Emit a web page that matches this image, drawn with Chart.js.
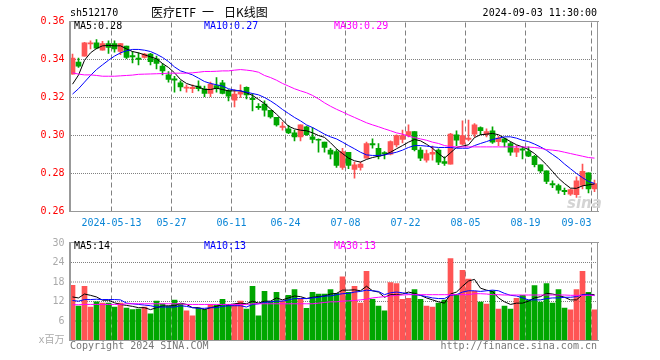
<!DOCTYPE html>
<html>
<head>
<meta charset="utf-8">
<script src="https://cdn.jsdelivr.net/npm/chart.js@4.4.1/dist/chart.umd.min.js"></script>
<style>
  body { margin: 0; background: #fff; }
  #wrap { position: relative; width: 660px; height: 360px; overflow: hidden; font-family: 'DejaVu Sans Mono', monospace; font-size: 10px; }
  canvas { position: absolute; left: 0; }
  #priceChart { top: 0; }
  #volChart { top: 232px; }
  .txt { position: absolute; white-space: pre; line-height: 10px; }
  .cjk { font-family: 'Noto Sans CJK SC', sans-serif; font-size: 12px; line-height: 12px; }
</style>
</head>
<body>
<div id="wrap">
  <canvas id="priceChart" width="660" height="232"></canvas>
  <canvas id="volChart" width="660" height="128"></canvas>

  <div class="txt" style="left:70px;top:8px;color:#000">sh512170</div>
  <div class="txt cjk" style="left:151px;top:6px;color:#000">医疗ETF</div>
  <div class="txt cjk" style="left:202px;top:6px;color:#000">一</div>
  <div class="txt cjk" style="left:224px;top:6px;color:#000">日K线图</div>
  <div class="txt" style="right:63px;top:8px;color:#000">2024-09-03 11:30:00</div>

  <div class="txt" style="left:74px;top:21px;color:#000">MA5:0.28</div>
  <div class="txt" style="left:204px;top:21px;color:#0000ff">MA10:0.27</div>
  <div class="txt" style="left:334px;top:21px;color:#ff00ff">MA30:0.29</div>

  <div class="txt" style="left:74px;top:241px;color:#000">MA5:14</div>
  <div class="txt" style="left:204px;top:241px;color:#0000ff">MA10:13</div>
  <div class="txt" style="left:334px;top:241px;color:#ff00ff">MA30:13</div>

  <div class="txt" style="left:567px;top:194px;color:#d4d4d4;font:italic bold 15px 'DejaVu Sans',sans-serif">sina</div>

  <div class="txt" style="left:70px;top:341px;color:#777">Copyright 2024 SINA.COM</div>
  <div class="txt" style="right:63px;top:341px;color:#777">http://finance.sina.com.cn</div>
</div>

<script>
// trading days shown on the chart
const dates = [
  '2024-04-29', '2024-04-30',
  '2024-05-06', '2024-05-07', '2024-05-08', '2024-05-09', '2024-05-10',
  '2024-05-13', '2024-05-14', '2024-05-15', '2024-05-16', '2024-05-17',
  '2024-05-20', '2024-05-21', '2024-05-22', '2024-05-23', '2024-05-24',
  '2024-05-27', '2024-05-28', '2024-05-29', '2024-05-30', '2024-05-31',
  '2024-06-03', '2024-06-04', '2024-06-05', '2024-06-06', '2024-06-07',
  '2024-06-11', '2024-06-12', '2024-06-13', '2024-06-14',
  '2024-06-17', '2024-06-18', '2024-06-19', '2024-06-20', '2024-06-21',
  '2024-06-24', '2024-06-25', '2024-06-26', '2024-06-27', '2024-06-28',
  '2024-07-01', '2024-07-02', '2024-07-03', '2024-07-04', '2024-07-05',
  '2024-07-08', '2024-07-09', '2024-07-10', '2024-07-11', '2024-07-12',
  '2024-07-15', '2024-07-16', '2024-07-17', '2024-07-18', '2024-07-19',
  '2024-07-22', '2024-07-23', '2024-07-24', '2024-07-25', '2024-07-26',
  '2024-07-29', '2024-07-30', '2024-07-31', '2024-08-01', '2024-08-02',
  '2024-08-05', '2024-08-06', '2024-08-07', '2024-08-08', '2024-08-09',
  '2024-08-12', '2024-08-13', '2024-08-14', '2024-08-15', '2024-08-16',
  '2024-08-19', '2024-08-20', '2024-08-21', '2024-08-22', '2024-08-23',
  '2024-08-26', '2024-08-27', '2024-08-28', '2024-08-29', '2024-08-30',
  '2024-09-02', '2024-09-03'
];

const tickDates = ['2024-05-13', '2024-05-27', '2024-06-11', '2024-06-24', '2024-07-08',
  '2024-07-22', '2024-08-05', '2024-08-19', '2024-09-03'];

const open = [
  0.3323, 0.3386, 0.3418, 0.3482, 0.3488, 0.3449, 0.3484, 0.3484, 0.3442, 0.3470,
  0.3421, 0.3407, 0.3411, 0.3428, 0.3404, 0.3365, 0.3319, 0.3298, 0.3277, 0.3249,
  0.3247, 0.3260, 0.3246, 0.3221, 0.3263, 0.3277, 0.3235, 0.3186, 0.3218, 0.3253,
  0.3196, 0.3154, 0.3165, 0.3133, 0.3095, 0.3042, 0.3035, 0.3014, 0.2993, 0.3046,
  0.2993, 0.2979, 0.2965, 0.2923, 0.2916, 0.2832, 0.2912, 0.2821, 0.2832, 0.2881,
  0.2958, 0.2933, 0.2909, 0.2902, 0.2951, 0.2979, 0.3000, 0.3021, 0.2923, 0.2870,
  0.2902, 0.2923, 0.2863, 0.2849, 0.3004, 0.2954, 0.2979, 0.3007, 0.3042, 0.3004,
  0.3025, 0.2968, 0.2982, 0.2958, 0.2912, 0.2930, 0.2916, 0.2891, 0.2846, 0.2814,
  0.2747, 0.2737, 0.2712, 0.2691, 0.2688, 0.2737, 0.2804, 0.2719
];
const high = [
  0.3428, 0.3407, 0.3491, 0.3498, 0.3505, 0.3495, 0.3498, 0.3498, 0.3484, 0.3470,
  0.3442, 0.3435, 0.3432, 0.3432, 0.3418, 0.3379, 0.3337, 0.3312, 0.3288, 0.3267,
  0.3267, 0.3288, 0.3260, 0.3281, 0.3305, 0.3291, 0.3242, 0.3242, 0.3267, 0.3256,
  0.3220, 0.3168, 0.3182, 0.3133, 0.3095, 0.3070, 0.3053, 0.3028, 0.3056, 0.3049,
  0.3042, 0.2982, 0.2965, 0.2933, 0.2926, 0.2933, 0.2912, 0.2860, 0.2860, 0.2965,
  0.2982, 0.2958, 0.2916, 0.2972, 0.3004, 0.3028, 0.3056, 0.3021, 0.2937, 0.2923,
  0.2944, 0.2930, 0.2888, 0.3011, 0.3025, 0.3077, 0.3081, 0.3063, 0.3046, 0.3035,
  0.3046, 0.2996, 0.2986, 0.2965, 0.2947, 0.2940, 0.2940, 0.2895, 0.2846, 0.2814,
  0.2761, 0.2744, 0.2723, 0.2719, 0.2782, 0.2849, 0.2804, 0.2765
];
const low = [
  0.3323, 0.3358, 0.3418, 0.3456, 0.3456, 0.3449, 0.3432, 0.3439, 0.3425, 0.3404,
  0.3382, 0.3372, 0.3407, 0.3372, 0.3351, 0.3319, 0.3281, 0.3228, 0.3235, 0.3228,
  0.3225, 0.3235, 0.3204, 0.3204, 0.3228, 0.3219, 0.3182, 0.3151, 0.3200, 0.3193,
  0.3130, 0.3137, 0.3102, 0.3091, 0.3049, 0.3028, 0.3010, 0.2972, 0.2972, 0.3000,
  0.2961, 0.2912, 0.2912, 0.2877, 0.2832, 0.2821, 0.2825, 0.2775, 0.2818, 0.2881,
  0.2933, 0.2877, 0.2877, 0.2898, 0.2940, 0.2961, 0.2993, 0.2919, 0.2867, 0.2860,
  0.2870, 0.2846, 0.2842, 0.2849, 0.2947, 0.2951, 0.2972, 0.2993, 0.3004, 0.2993,
  0.2958, 0.2947, 0.2940, 0.2895, 0.2888, 0.2877, 0.2888, 0.2835, 0.2804, 0.2747,
  0.2726, 0.2695, 0.2688, 0.2684, 0.2674, 0.2719, 0.2698, 0.2705
];
const close = [
  0.3407, 0.3365, 0.3488, 0.3486, 0.3460, 0.3484, 0.3463, 0.3456, 0.3484, 0.3411,
  0.3414, 0.3400, 0.3428, 0.3389, 0.3379, 0.3340, 0.3295, 0.3291, 0.3256, 0.3253,
  0.3254, 0.3246, 0.3221, 0.3270, 0.3246, 0.3221, 0.3207, 0.3218, 0.3228, 0.3214,
  0.3189, 0.3147, 0.3133, 0.3098, 0.3056, 0.3049, 0.3014, 0.2993, 0.3056, 0.3004,
  0.2979, 0.2975, 0.2937, 0.2902, 0.2842, 0.2916, 0.2842, 0.2846, 0.2849, 0.2958,
  0.2951, 0.2891, 0.2905, 0.2968, 0.3000, 0.3000, 0.3021, 0.2926, 0.2881, 0.2905,
  0.2912, 0.2860, 0.2853, 0.3007, 0.2975, 0.3000, 0.2986, 0.3056, 0.3025, 0.3021,
  0.2965, 0.2986, 0.2965, 0.2912, 0.2933, 0.2923, 0.2891, 0.2846, 0.2814, 0.2758,
  0.2740, 0.2712, 0.2705, 0.2716, 0.2761, 0.2811, 0.2719, 0.2747
];

const ma5 = [
  0.3270, 0.3318, 0.3396, 0.3435, 0.3458, 0.3472, 0.3474, 0.3472, 0.3472, 0.3456,
  0.3442, 0.3435, 0.3425, 0.3414, 0.3404, 0.3379, 0.3358, 0.3330, 0.3295, 0.3274,
  0.3263, 0.3256, 0.3242, 0.3242, 0.3249, 0.3242, 0.3235, 0.3235, 0.3235, 0.3225,
  0.3211, 0.3190, 0.3168, 0.3140, 0.3112, 0.3081, 0.3049, 0.3035, 0.3028, 0.3025,
  0.3014, 0.3000, 0.2990, 0.2962, 0.2930, 0.2905, 0.2881, 0.2867, 0.2860, 0.2874,
  0.2884, 0.2891, 0.2898, 0.2912, 0.2930, 0.2947, 0.2965, 0.2979, 0.2972, 0.2954,
  0.2933, 0.2905, 0.2881, 0.2909, 0.2937, 0.2944, 0.2951, 0.2989, 0.3004, 0.3007,
  0.3011, 0.3004, 0.2986, 0.2968, 0.2951, 0.2940, 0.2926, 0.2905, 0.2877, 0.2846,
  0.2811, 0.2775, 0.2747, 0.2723, 0.2722, 0.2735, 0.2740, 0.2745
];
const ma10 = [
  0.3218, 0.3246, 0.3281, 0.3316, 0.3347, 0.3372, 0.3396, 0.3418, 0.3435, 0.3446,
  0.3453, 0.3453, 0.3449, 0.3442, 0.3428, 0.3411, 0.3389, 0.3361, 0.3340, 0.3330,
  0.3319, 0.3302, 0.3284, 0.3274, 0.3267, 0.3260, 0.3246, 0.3239, 0.3235, 0.3228,
  0.3221, 0.3214, 0.3200, 0.3182, 0.3161, 0.3137, 0.3116, 0.3095, 0.3077, 0.3056,
  0.3042, 0.3025, 0.3007, 0.2993, 0.2982, 0.2965, 0.2947, 0.2930, 0.2912, 0.2898,
  0.2895, 0.2895, 0.2898, 0.2905, 0.2912, 0.2923, 0.2937, 0.2947, 0.2947, 0.2944,
  0.2940, 0.2937, 0.2937, 0.2937, 0.2933, 0.2933, 0.2933, 0.2947, 0.2958, 0.2968,
  0.2979, 0.2986, 0.2993, 0.2993, 0.2986, 0.2975, 0.2968, 0.2955, 0.2940, 0.2922,
  0.2900, 0.2878, 0.2850, 0.2825, 0.2800, 0.2778, 0.2758, 0.2748
];
const ma30 = [
  0.3330, 0.3323, 0.3319, 0.3319, 0.3316, 0.3312, 0.3312, 0.3312, 0.3314, 0.3316,
  0.3318, 0.3322, 0.3323, 0.3324, 0.3325, 0.3326, 0.3328, 0.3328, 0.3328, 0.3328,
  0.3330, 0.3333, 0.3337, 0.3337, 0.3338, 0.3340, 0.3340, 0.3344, 0.3347, 0.3344,
  0.3340, 0.3333, 0.3316, 0.3305, 0.3291, 0.3274, 0.3260, 0.3246, 0.3235, 0.3225,
  0.3211, 0.3193, 0.3172, 0.3154, 0.3138, 0.3124, 0.3109, 0.3095, 0.3081, 0.3067,
  0.3056, 0.3046, 0.3035, 0.3025, 0.3014, 0.3007, 0.2996, 0.2989, 0.2982, 0.2975,
  0.2965, 0.2958, 0.2947, 0.2942, 0.2940, 0.2940, 0.2940, 0.2940, 0.2940, 0.2940,
  0.2940, 0.2940, 0.2940, 0.2940, 0.2940, 0.2940, 0.2939, 0.2937, 0.2933, 0.2926,
  0.2923, 0.2919, 0.2912, 0.2905, 0.2898, 0.2891, 0.2884, 0.2881
];

// volume, millions of shares
const volume = [
  17.0, 10.6, 16.7, 10.3, 11.9, 11.5, 11.5, 10.3, 11.5, 10.0,
  9.5, 9.7, 10.3, 8.2, 12.1, 11.3, 10.5, 12.4, 11.3, 9.1,
  7.6, 10.0, 9.5, 11.1, 10.9, 12.7, 11.1, 11.1, 12.1, 9.7,
  16.7, 7.6, 15.1, 11.9, 14.8, 12.1, 13.9, 15.7, 12.9, 9.9,
  14.8, 14.3, 14.3, 15.7, 14.5, 19.6, 14.8, 16.7, 11.5, 21.3,
  12.7, 10.6, 9.1, 17.8, 17.5, 12.7, 13.0, 15.7, 12.7, 10.6,
  10.3, 11.5, 12.4, 25.2, 14.2, 21.6, 18.9, 15.1, 11.8, 11.2,
  15.3, 9.7, 10.6, 9.7, 13.0, 13.9, 12.4, 16.9, 11.8, 17.5,
  11.5, 15.7, 10.0, 9.4, 15.7, 21.3, 14.8, 9.4
];
const volMa5 = [
  13.4, 13.1, 14.3, 13.9, 13.4, 12.4, 12.4, 11.6, 11.1, 10.8,
  10.5, 10.1, 10.1, 9.5, 10.1, 10.6, 10.7, 10.7, 11.5, 11.1,
  10.1, 10.1, 9.5, 10.1, 10.5, 11.1, 10.9, 11.3, 11.5, 11.3,
  12.1, 11.5, 12.1, 12.1, 13.1, 12.5, 13.1, 13.7, 13.5, 12.9,
  13.3, 13.5, 13.7, 14.3, 14.5, 15.5, 15.5, 15.6, 15.3, 16.7,
  15.3, 14.9, 13.3, 14.1, 14.1, 14.3, 14.9, 14.5, 13.9, 13.1,
  12.5, 11.9, 11.5, 14.3, 14.9, 16.7, 18.3, 18.8, 16.1, 15.5,
  15.1, 13.1, 11.9, 11.1, 11.5, 11.5, 12.1, 13.1, 13.5, 14.5,
  14.3, 13.9, 13.3, 12.5, 12.5, 14.1, 14.3, 14.1
];
const volMa10 = [
  12.3, 12.1, 12.6, 12.6, 12.7, 12.6, 12.6, 12.6, 12.5, 11.5,
  11.3, 11.1, 10.9, 10.7, 10.3, 10.3, 10.3, 10.3, 10.7, 10.5,
  10.1, 9.9, 9.9, 10.1, 10.1, 10.5, 10.7, 10.7, 10.7, 10.3,
  11.1, 11.3, 11.7, 11.9, 12.1, 12.1, 12.5, 12.9, 12.9, 12.9,
  13.1, 13.3, 13.7, 13.7, 14.1, 14.4, 14.5, 14.9, 15.1, 15.5,
  15.3, 15.1, 14.1, 14.7, 14.9, 14.7, 14.3, 14.1, 13.9, 13.5,
  13.1, 12.9, 12.9, 13.9, 14.1, 14.9, 15.3, 15.3, 15.1, 15.3,
  15.5, 15.3, 14.5, 13.9, 13.7, 13.1, 12.5, 12.5, 12.5, 12.9,
  13.1, 13.1, 13.3, 13.3, 13.5, 14.1, 14.1, 13.8
];
const volMa30 = [
  11.0, 11.0, 11.1, 11.1, 11.1, 11.1, 11.1, 11.1, 11.1, 11.3,
  11.3, 11.3, 11.3, 11.3, 11.3, 11.3, 11.3, 11.3, 11.3, 11.1,
  11.1, 11.1, 11.1, 11.1, 11.1, 11.1, 11.1, 11.1, 11.1, 11.1,
  11.3, 11.3, 11.3, 11.3, 11.3, 11.3, 11.3, 11.3, 11.3, 11.3,
  11.3, 11.5, 11.7, 11.9, 11.9, 12.1, 12.2, 12.3, 12.5, 12.7,
  13.1, 13.3, 13.5, 13.7, 13.9, 14.0, 14.1, 14.1, 14.1, 14.1,
  14.1, 14.1, 14.1, 14.1, 14.1, 14.1, 14.1, 14.4, 14.4, 14.3,
  14.1, 14.1, 14.0, 14.0, 14.0, 14.0, 14.0, 14.0, 14.0, 14.0,
  14.0, 14.0, 14.0, 13.9, 13.9, 13.9, 13.9, 13.9
];

const priceTicks = [0.26, 0.28, 0.30, 0.32, 0.34, 0.36];
const volTicks = [0, 6, 12, 18, 24, 30];

const UP = '#ff5454';
const DOWN = '#00a600';
const GRID = '#808080';
const FRAME = '#999999';
const MONO = "'DejaVu Sans Mono', 'Noto Sans CJK SC', monospace";

const tickIndexes = tickDates.map((d) => dates.indexOf(d));
const candleColor = (ctx) => close[ctx.dataIndex] >= open[ctx.dataIndex] ? UP : DOWN;

function dateLabel(index) {
  const pos = tickIndexes.indexOf(index);
  if (pos === -1) return '';
  if (pos === 0) return dates[index];
  // last label sits left of its line, pad so the centred text ends at the line
  if (pos === tickIndexes.length - 1) return dates[index].slice(5) + '     ';
  return dates[index].slice(5);
}

// grid as line datasets on a hidden linear x axis (-0.5 .. n-0.5 matches the day slots),
// broken into separate segments by null points
function valueGridSet(values) {
  const inner = values.slice(1, -1);
  return {
    type: 'line',
    xAxisID: 'xg',
    data: inner.flatMap((v) => [
      { x: -0.5, y: v }, { x: dates.length - 0.5, y: v }, { x: dates.length - 0.5, y: null }
    ]),
    borderColor: GRID,
    borderWidth: 1,
    borderDash: [1, 1],
    borderDashOffset: 0.5,
    pointRadius: 0,
    fill: false,
    spanGaps: false,
    order: 10
  };
}

function dateGridSet(values) {
  const lo = values[0];
  const hi = values[values.length - 1];
  return {
    type: 'line',
    xAxisID: 'xg',
    data: tickIndexes.flatMap((i) => [
      { x: i - 0.5, y: lo }, { x: i - 0.5, y: hi }, { x: i - 0.5, y: null }
    ]),
    borderColor: GRID,
    borderWidth: 1,
    borderDash: [5, 3],
    pointRadius: 0,
    fill: false,
    spanGaps: false,
    order: 11
  };
}

const gridAxis = { type: 'linear', display: false, offset: false, min: -0.5, max: dates.length - 0.5 };

// frame round the plot area, left side a bit heavier
const framePlugin = {
  id: 'frame',
  afterDatasetsDraw(chart) {
    const { ctx, chartArea: a } = chart;
    const left = Math.round(a.left);
    const right = Math.round(a.right);
    const top = Math.round(a.top);
    const bottom = Math.round(a.bottom);
    ctx.save();
    ctx.fillStyle = FRAME;
    ctx.fillRect(left - 1, top - 1, right - left + 2, 1);
    ctx.fillRect(left - 1, bottom - 1, right - left + 2, 1);
    ctx.fillRect(left - 1, top - 1, 2, bottom - top + 1);
    ctx.fillRect(right - 1, top - 1, 1, bottom - top + 1);
    ctx.restore();
  }
};

function lineSet(data, color) {
  return {
    type: 'line',
    data,
    borderColor: color,
    backgroundColor: color,
    borderWidth: 1,
    pointRadius: 0,
    fill: false,
    tension: 0,
    order: 0
  };
}

const baseOptions = {
  responsive: false,
  animation: false,
  devicePixelRatio: 1,
  plugins: { legend: { display: false }, tooltip: { enabled: false } }
};

new Chart(document.getElementById('priceChart'), {
  type: 'bar',
  data: {
    labels: dates,
    datasets: [
      valueGridSet(priceTicks),
      dateGridSet(priceTicks),
      {
        data: dates.map((d, i) => [open[i], close[i]]),
        backgroundColor: candleColor,
        barThickness: 5,
        minBarLength: 1,
        grouped: false,
        order: 2
      },
      {
        data: dates.map((d, i) => [low[i], high[i]]),
        backgroundColor: candleColor,
        barThickness: 1,
        grouped: false,
        order: 3
      },
      lineSet(ma30, '#ff00ff'),
      lineSet(ma10, '#0000ff'),
      lineSet(ma5, '#000000')
    ]
  },
  options: {
    ...baseOptions,
    layout: { padding: { top: 21.5, right: 62.5, left: 0, bottom: 0 } },
    scales: {
      x: {
        offset: true,
        grid: { display: false, drawTicks: false },
        border: { display: false },
        ticks: {
          autoSkip: false,
          maxRotation: 0,
          minRotation: 0,
          padding: 6,
          labelOffset: -3,
          color: '#0a85d6',
          font: { family: MONO, size: 10 },
          callback: (value, index) => dateLabel(index)
        },
        afterFit: (scale) => { scale.height = 20.5; }
      },
      xg: gridAxis,
      y: {
        min: priceTicks[0],
        max: priceTicks[priceTicks.length - 1],
        afterBuildTicks: (scale) => { scale.ticks = priceTicks.map((v) => ({ value: v })); },
        grid: { display: false, drawTicks: false },
        border: { display: false },
        ticks: {
          padding: 5,
          color: '#ff0000',
          font: { family: MONO, size: 10 },
          callback: (value) => Number(value).toFixed(2)
        },
        afterFit: (scale) => { scale.width = 69.5; }
      }
    }
  },
  plugins: [framePlugin]
});

new Chart(document.getElementById('volChart'), {
  type: 'bar',
  data: {
    labels: dates,
    datasets: [
      valueGridSet(volTicks),
      dateGridSet(volTicks),
      {
        data: volume,
        backgroundColor: candleColor,
        barThickness: 5,
        grouped: false,
        order: 2
      },
      lineSet(volMa30, '#ff00ff'),
      lineSet(volMa10, '#0000ff'),
      lineSet(volMa5, '#000000')
    ]
  },
  options: {
    ...baseOptions,
    layout: { padding: { top: 8.5, right: 62.5, left: 0, bottom: 19.5 } },
    scales: {
      x: {
        offset: true,
        grid: { display: false, drawTicks: false },
        border: { display: false },
        ticks: { display: false },
        afterFit: (scale) => { scale.height = 0; }
      },
      xg: gridAxis,
      y: {
        min: volTicks[0],
        max: volTicks[volTicks.length - 1],
        afterBuildTicks: (scale) => { scale.ticks = volTicks.map((v) => ({ value: v })); },
        grid: { display: false, drawTicks: false },
        border: { display: false },
        ticks: {
          padding: 5,
          color: '#aaaaaa',
          font: { family: MONO, size: 10 },
          callback: (value) => value === 0 ? 'x百万' : String(value)
        },
        afterFit: (scale) => { scale.width = 69.5; }
      }
    }
  },
  plugins: [framePlugin]
});
</script>
</body>
</html>
